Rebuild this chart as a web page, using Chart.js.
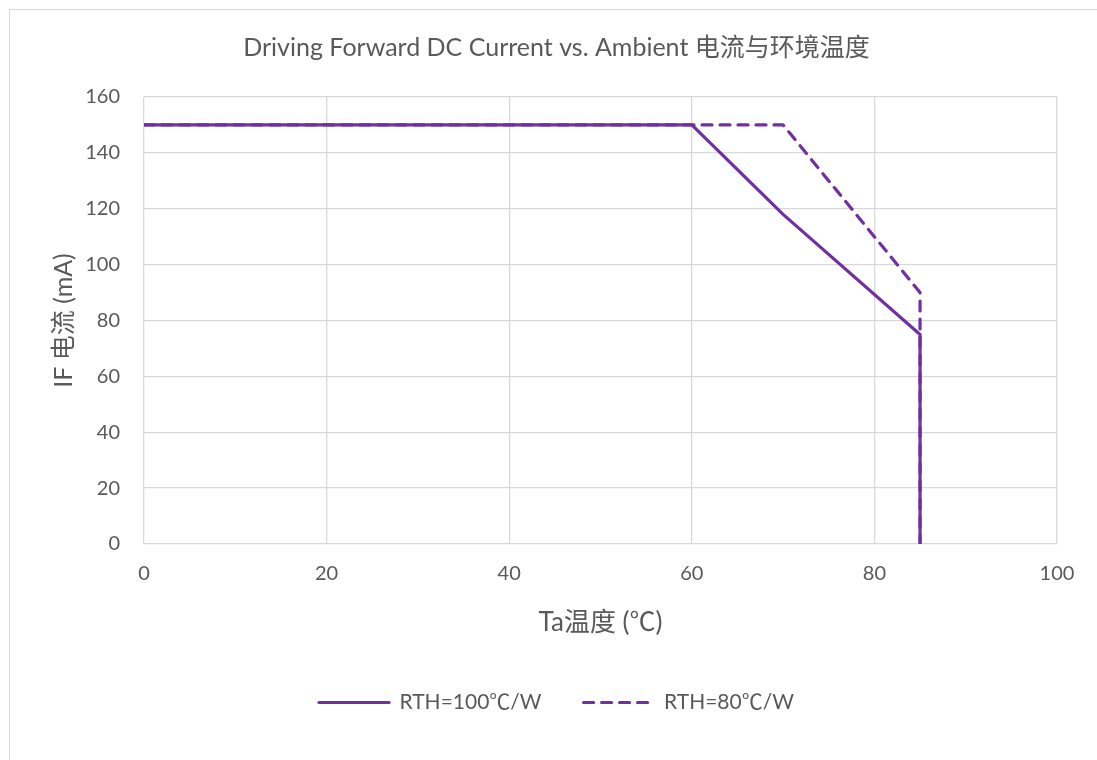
<!DOCTYPE html>
<html>
<head>
<meta charset="utf-8">
<script src="https://cdn.jsdelivr.net/npm/chart.js@4"></script>
<style>
  body { margin: 0; background: #fff; overflow: hidden; }
  #frame { position: absolute; left: 9px; top: 9px; width: 1100px; height: 800px; border: 1.5px solid #d9d9d9; }
  #wrap { position: absolute; left: 0; top: 0; width: 1097px; height: 760px; }
</style>
</head>
<body>
<div id="frame"></div>
<div id="wrap"><canvas id="derating"></canvas></div>
<script>
// Series data
const tempRth100 = [0, 60, 70, 85, 85];
const currentRth100 = [150, 150, 118, 75, 0];
const tempRth80 = [0, 70, 85, 85];
const currentRth80 = [150, 150, 90, 0];

const seriesNames = ['RTH=100℃/W', 'RTH=80℃/W'];
const yTicks = [0, 20, 40, 60, 80, 100, 120, 140, 160];
const xTicks = [0, 20, 40, 60, 80, 100];

const purple = '#7030a0';
const textGray = '#595959';
const gridGray = '#d9d9d9';
const fontFamily = 'Lato, "Noto Sans CJK SC", sans-serif';

function toPoints(xs, ys) {
    return xs.map((x, i) => ({ x: x, y: ys[i] }));
}

// Legend items: keep the dash of each dataset on its line sample
function legendLabels(chart) {
    const items = Chart.defaults.plugins.legend.labels.generateLabels(chart);
    items.forEach((item, i) => {
        const ds = chart.data.datasets[i];
        item.lineDash = ds.borderDash || [];
        item.lineCap = 'round';
        item.lineWidth = 3.2;
        item.strokeStyle = purple;
        item.fontColor = textGray;
    });
    return items;
}

function createChart() {
    const ctx = document.getElementById('derating').getContext('2d');
    new Chart(ctx, {
        type: 'line',
        data: {
            datasets: [{
                label: seriesNames[0],
                data: toPoints(tempRth100, currentRth100),
                borderColor: purple,
                backgroundColor: purple,
                borderWidth: 3.2,
                borderJoinStyle: 'round',
                pointRadius: 0,
                tension: 0
            }, {
                label: seriesNames[1],
                data: toPoints(tempRth80, currentRth80),
                borderColor: purple,
                backgroundColor: purple,
                borderWidth: 3.2,
                borderDash: [10, 8],
                borderCapStyle: 'round',
                borderJoinStyle: 'round',
                pointRadius: 0,
                tension: 0
            }]
        },
        options: {
            responsive: true,
            maintainAspectRatio: false,
            animation: false,
            layout: { padding: { left: 56, right: 40, top: 0, bottom: 37 } },
            scales: {
                x: {
                    type: 'linear',
                    min: 0,
                    max: 100,
                    afterBuildTicks: (axis) => { axis.ticks = xTicks.map(v => ({ value: v })); },
                    afterFit: (axis) => { axis.height = 106; },
                    grid: { color: gridGray, lineWidth: 1.3, drawTicks: false },
                    border: { display: false },
                    ticks: { color: textGray, font: { family: fontFamily, size: 20 }, padding: 18 },
                    title: {
                        display: true,
                        text: 'Ta温度 (℃)',
                        color: textGray,
                        font: { family: fontFamily, size: 26 },
                        padding: { top: 0, bottom: 12 }
                    }
                },
                y: {
                    min: 0,
                    max: 160,
                    afterBuildTicks: (axis) => { axis.ticks = yTicks.map(v => ({ value: v })); },
                    afterFit: (axis) => { axis.width = 88; },
                    grid: { color: gridGray, lineWidth: 1.3, drawTicks: false },
                    border: { display: false },
                    ticks: { color: textGray, font: { family: fontFamily, size: 20 }, padding: 24 },
                    title: {
                        display: true,
                        text: 'IF 电流 (mA)',
                        color: textGray,
                        font: { family: fontFamily, size: 25 },
                        padding: { top: -7, bottom: 0 }
                    }
                }
            },
            plugins: {
                title: {
                    display: true,
                    text: 'Driving Forward DC Current vs. Ambient 电流与环境温度',
                    color: textGray,
                    font: { family: fontFamily, size: 25, weight: 'normal' },
                    padding: { top: 32.5, bottom: 34.5 }
                },
                legend: {
                    position: 'bottom',
                    labels: {
                        color: textGray,
                        font: { family: fontFamily, size: 21 },
                        usePointStyle: true,
                        pointStyle: 'line',
                        pointStyleWidth: 70,
                        boxHeight: 3,
                        padding: 42,
                        generateLabels: legendLabels
                    }
                },
                tooltip: { enabled: false }
            }
        }
    });
}

document.addEventListener('DOMContentLoaded', createChart);
</script>
</body>
</html>
